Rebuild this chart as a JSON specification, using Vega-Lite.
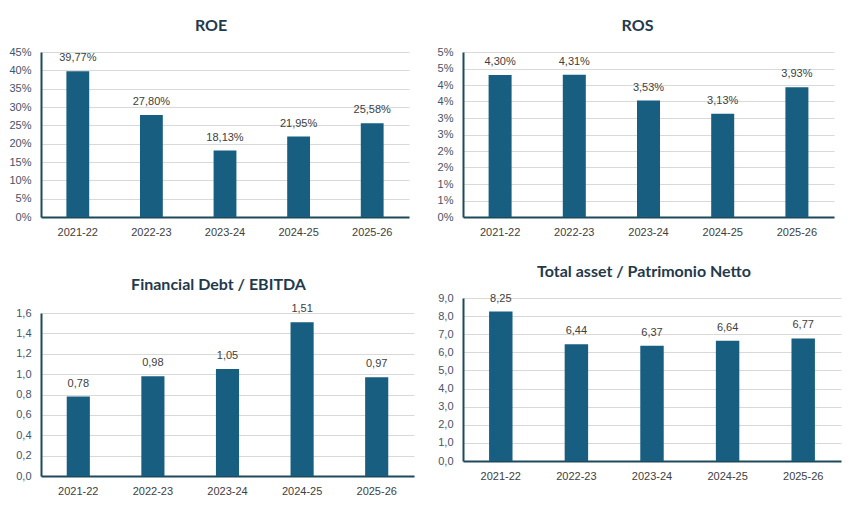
{
  "$schema": "https://vega.github.io/schema/vega-lite/v6.json",
  "padding": {"left": 8, "top": 18, "right": 5, "bottom": 5},
  "background": "white",
  "datasets": {
    "roe": [
      {"year": "2021-22", "value": 0.3977},
      {"year": "2022-23", "value": 0.278},
      {"year": "2023-24", "value": 0.1813},
      {"year": "2024-25", "value": 0.2195},
      {"year": "2025-26", "value": 0.2558}
    ],
    "ros": [
      {"year": "2021-22", "value": 0.043},
      {"year": "2022-23", "value": 0.0431},
      {"year": "2023-24", "value": 0.0353},
      {"year": "2024-25", "value": 0.0313},
      {"year": "2025-26", "value": 0.0393}
    ],
    "fd": [
      {"year": "2021-22", "value": 0.78},
      {"year": "2022-23", "value": 0.98},
      {"year": "2023-24", "value": 1.05},
      {"year": "2024-25", "value": 1.51},
      {"year": "2025-26", "value": 0.97}
    ],
    "ta": [
      {"year": "2021-22", "value": 8.25},
      {"year": "2022-23", "value": 6.44},
      {"year": "2023-24", "value": 6.37},
      {"year": "2024-25", "value": 6.64},
      {"year": "2025-26", "value": 6.77}
    ]
  },
  "hconcat": [
    {
      "vconcat": [
        {
          "title": {"text": "ROE", "offset": 12, "dx": -14},
          "width": 368,
          "height": 165,
          "data": {"name": "roe"},
          "encoding": {
            "x": {"field": "year", "type": "nominal", "sort": null, "title": null,
                  "scale": {"paddingInner": 0.69, "paddingOuter": 0.345}},
            "y": {"field": "value", "type": "quantitative", "title": null,
                  "scale": {"domain": [0, 0.45], "nice": false},
                  "axis": {"values": [0, 0.05, 0.1, 0.15, 0.2, 0.25, 0.3, 0.35, 0.4, 0.45], "format": ".0%"}}
          },
          "layer": [
            {"mark": {"type": "bar", "color": "#175e80"}},
            {"mark": {"type": "text", "baseline": "bottom", "dy": -8, "fontSize": 11, "color": "#404040"},
             "encoding": {"text": {"field": "value", "type": "quantitative", "format": ".2%"}}}
          ]
        },
        {
          "title": {"text": "Financial Debt / EBITDA", "offset": 10, "dx": -9},
          "width": 373,
          "height": 163,
          "data": {"name": "fd"},
          "encoding": {
            "x": {"field": "year", "type": "nominal", "sort": null, "title": null,
                  "scale": {"paddingInner": 0.69, "paddingOuter": 0.345}},
            "y": {"field": "value", "type": "quantitative", "title": null,
                  "scale": {"domain": [0, 1.6], "nice": false},
                  "axis": {"values": [0, 0.2, 0.4, 0.6, 0.8, 1.0, 1.2, 1.4, 1.6], "format": ".1f"}}
          },
          "layer": [
            {"mark": {"type": "bar", "color": "#175e80"}},
            {"mark": {"type": "text", "baseline": "bottom", "dy": -8, "fontSize": 11, "color": "#404040"},
             "encoding": {"text": {"field": "value", "type": "quantitative", "format": ".2f"}}}
          ]
        }
      ],
      "spacing": 40
    },
    {
      "vconcat": [
        {
          "title": {"text": "ROS", "offset": 12, "dx": -11},
          "width": 371,
          "height": 165,
          "data": {"name": "ros"},
          "encoding": {
            "x": {"field": "year", "type": "nominal", "sort": null, "title": null,
                  "scale": {"paddingInner": 0.69, "paddingOuter": 0.345}},
            "y": {"field": "value", "type": "quantitative", "title": null,
                  "scale": {"domain": [0, 0.05], "nice": false},
                  "axis": {"values": [0, 0.005, 0.01, 0.015, 0.02, 0.025, 0.03, 0.035, 0.04, 0.045, 0.05],
                           "labelExpr": "format(round(datum.value*100+0.01),'d') + '%'"}}
          },
          "layer": [
            {"mark": {"type": "bar", "color": "#175e80"}},
            {"mark": {"type": "text", "baseline": "bottom", "dy": -8, "fontSize": 11, "color": "#404040"},
             "encoding": {"text": {"field": "value", "type": "quantitative", "format": ".2%"}}}
          ]
        },
        {
          "title": {"text": "Total asset /  Patrimonio Netto", "offset": 12, "dx": -8},
          "width": 378,
          "height": 163,
          "data": {"name": "ta"},
          "encoding": {
            "x": {"field": "year", "type": "nominal", "sort": null, "title": null,
                  "scale": {"paddingInner": 0.69, "paddingOuter": 0.345}},
            "y": {"field": "value", "type": "quantitative", "title": null,
                  "scale": {"domain": [0, 9], "nice": false},
                  "axis": {"values": [0, 1, 2, 3, 4, 5, 6, 7, 8, 9], "format": ".1f"}}
          },
          "layer": [
            {"mark": {"type": "bar", "color": "#175e80"}},
            {"mark": {"type": "text", "baseline": "bottom", "dy": -8, "fontSize": 11, "color": "#404040"},
             "encoding": {"text": {"field": "value", "type": "quantitative", "format": ".2f"}}}
          ]
        }
      ],
      "spacing": 27
    }
  ],
  "spacing": 23,
  "config": {
    "locale": {"number": {"decimal": ",", "thousands": ".", "grouping": [3], "currency": ["€", ""]}},
    "font": "Liberation Sans",
    "view": {"stroke": null},
    "title": {"font": "Lato", "fontSize": 16, "fontWeight": "bold", "color": "#1f3a4d"},
    "axisY": {"domainColor": "#1c4a5c", "domainWidth": 2, "ticks": false, "gridColor": "#d9d9d9", "gridWidth": 1,
              "labelColor": "#44546a", "labelFontSize": 11, "labelPadding": 10},
    "axisX": {"domainColor": "#1c4a5c", "domainWidth": 2, "ticks": false, "grid": false,
              "labelColor": "#404040", "labelFontSize": 11, "labelPadding": 9, "labelAngle": 0}
  }
}
